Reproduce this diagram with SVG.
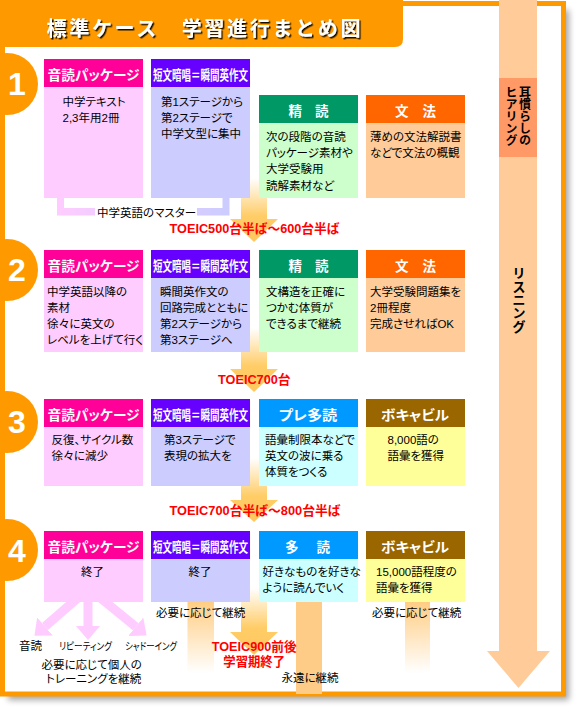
<svg xmlns="http://www.w3.org/2000/svg" width="584" height="718" viewBox="0 0 584 718">
<defs>
<style>
.t{font-family:"Liberation Sans","Noto Sans CJK JP",sans-serif;font-size:11.5px;fill:#000;font-feature-settings:"palt";}
.s{font-family:"Liberation Sans","Noto Sans CJK JP",sans-serif;font-size:10px;fill:#000;font-feature-settings:"palt";}
.h{font-family:"Liberation Sans","Noto Sans CJK JP",sans-serif;font-size:13.5px;font-weight:bold;fill:#fff;text-anchor:middle;font-feature-settings:"palt";}
.r{font-family:"Liberation Sans","Noto Sans CJK JP",sans-serif;font-size:13px;font-weight:bold;fill:#f00;}
.v{font-family:"Noto Sans CJK JP",sans-serif;font-weight:bold;fill:#000;writing-mode:tb;}
.num{font-family:"Liberation Sans",sans-serif;font-size:32px;font-weight:bold;fill:#fff;text-anchor:middle;}
.c1{fill:#FF0099}.b1{fill:#FFCCFF}
.c2{fill:#6600FF}.b2{fill:#CCCCFF}
.c3{fill:#009966}.b3{fill:#CCFFCC}
.c4{fill:#FF6600}.b4{fill:#FFCC99}
.c5{fill:#0099FF}.b5{fill:#CCFFFF}
.c6{fill:#996600}.b6{fill:#FFFF99}
.circ{fill:#FF9900}
</style>
<filter id="shadow" x="-5%" y="-5%" width="115%" height="115%"><feGaussianBlur stdDeviation="3"/></filter>
<filter id="tshadow" x="-5%" y="-20%" width="110%" height="150%"><feDropShadow dx="1.5" dy="1.5" stdDeviation="0.4" flood-color="#000" flood-opacity="0.9"/></filter>
<linearGradient id="ag" x1="0" y1="0" x2="0" y2="1"><stop offset="0" stop-color="#FFCC66" stop-opacity="0"/><stop offset="0.6" stop-color="#FFCC66"/><stop offset="1" stop-color="#FFC85E"/></linearGradient>
<linearGradient id="fg" x1="0" y1="0" x2="0" y2="1"><stop offset="0" stop-color="#FFCC80"/><stop offset="1" stop-color="#FFCC80" stop-opacity="0"/></linearGradient>
<linearGradient id="brg" x1="0" y1="0" x2="1" y2="0"><stop offset="0" stop-color="#FFCCFF"/><stop offset="1" stop-color="#CCCCFF"/></linearGradient>
<marker id="pk" markerUnits="userSpaceOnUse" markerWidth="14" markerHeight="24" refX="0" refY="12" orient="auto"><path d="M0,0 L14,12 L0,24 z" fill="#FFCCFF"/></marker>
</defs>

<g id="frame">
<rect x="8" y="10" width="561" height="690" fill="#000" opacity="0.35" filter="url(#shadow)"/>
<rect x="2.5" y="3.5" width="561" height="690.5" fill="#fff" stroke="#FF9900" stroke-width="5"/>
</g>

<g id="title">
<path d="M0,0 H403 V39 Q403,47 395,47 H0 Z" fill="#FF9900"/>
<text x="46.5" y="36" font-family="'Noto Sans CJK JP',sans-serif" font-size="20" font-weight="bold" fill="#fff" textLength="314" lengthAdjust="spacing" filter="url(#tshadow)">標準ケース　学習進行まとめ図</text>
</g>

<g id="connectors">
<path d="M57,196 V215.5 H229.5 V196 H222.5 V208 H64 V196 Z" fill="url(#brg)"/>
<rect x="95" y="206.5" width="102" height="12" fill="#fff"/>
<polygon points="241,178 267,178 267,219 278,219 254,242 230,219 241,219" fill="url(#ag)"/>
<polygon points="241,328 267,328 267,369 278,369 254,392 230,369 241,369" fill="url(#ag)"/>
<polygon points="241,458 267,458 267,500 278,500 254,522 230,500 241,500" fill="url(#ag)"/>
<polygon points="241,588 267,588 267,632 278,632 254,655 230,632 241,632" fill="url(#ag)"/>
<rect x="187.5" y="600" width="26.5" height="73" fill="url(#fg)"/>
<rect x="296" y="600" width="26" height="94" fill="#FFCC88"/>
<rect x="405" y="600" width="25" height="73" fill="url(#fg)"/>
<line x1="88" y1="598" x2="88" y2="626" stroke="#FFCCFF" stroke-width="9" marker-end="url(#pk)"/>
<line x1="80" y1="596" x2="45" y2="626.5" stroke="#FFCCFF" stroke-width="9" marker-end="url(#pk)"/>
<line x1="98" y1="596" x2="135.7" y2="626.7" stroke="#FFCCFF" stroke-width="9" marker-end="url(#pk)"/>
<rect x="499" y="0" width="38" height="651" fill="#FFCC99"/>
<polygon points="487,651 550,651 518.5,688" fill="#FFCC99"/>
</g>

<g id="listening">
<text class="v" x="519" y="266.5" font-size="13.4">リスニング</text>
</g>
<g id="hearing">
<rect x="499" y="78" width="38" height="79" fill="#FF9966"/>
<text class="v" x="525" y="86" font-size="12">耳慣らしの</text>
<text class="v" x="511.5" y="86" font-size="12">ヒアリング</text>
</g>

<g id="step1"><circle class="circ" cx="7" cy="84" r="31"/><text class="num" x="17" y="95">1</text></g>
<g id="step2"><circle class="circ" cx="7" cy="270" r="31"/><text class="num" x="17" y="280.5">2</text></g>
<g id="step3"><circle class="circ" cx="7" cy="422" r="31"/><text class="num" x="17" y="433">3</text></g>
<g id="step4"><circle class="circ" cx="7" cy="550" r="31"/><text class="num" x="17" y="561.5">4</text></g>

<!-- Row 1 -->
<g id="r1-ondoku">
<rect class="c1" x="44" y="59" width="99" height="28"/><rect class="b1" x="44" y="87" width="99" height="111"/>
<text class="h" x="93.5" y="80" textLength="92" lengthAdjust="spacingAndGlyphs">音読パッケージ</text>
<text class="t" x="62.5" y="105.5">中学テキスト</text>
<text class="t" x="62.5" y="121.5">2,3年用2冊</text>
</g>
<g id="r1-tanbun">
<rect class="c2" x="151" y="59" width="99" height="28"/><rect class="b2" x="151" y="87" width="99" height="111"/>
<text class="h" x="200.5" y="79.5" font-size="12.5" textLength="95" lengthAdjust="spacingAndGlyphs">短文暗唱＝瞬間英作文</text>
<text class="t" x="161" y="105.5">第1ステージから</text>
<text class="t" x="161" y="121.5">第2ステージで</text>
<text class="t" x="161" y="137.5">中学文型に集中</text>
</g>
<g id="r1-seidoku">
<rect class="c3" x="259" y="95" width="99" height="28"/><rect class="b3" x="259" y="123" width="99" height="75"/>
<text class="h" x="308.5" y="116" textLength="40" lengthAdjust="spacing">精　読</text>
<text class="t" x="266" y="140.5">次の段階の音読</text>
<text class="t" x="266" y="157">パッケージ素材や</text>
<text class="t" x="266" y="173.3">大学受験用</text>
<text class="t" x="266" y="189.5">読解素材など</text>
</g>
<g id="r1-bunpo">
<rect class="c4" x="366" y="95" width="99" height="28"/><rect class="b4" x="366" y="123" width="99" height="75"/>
<text class="h" x="415.5" y="116" textLength="41" lengthAdjust="spacing">文　法</text>
<text class="t" x="370" y="140.5">薄めの文法解説書</text>
<text class="t" x="370" y="157">などで文法の概観</text>
</g>
<g id="r1-label"><text class="t" x="97" y="217">中学英語のマスター</text></g>
<g id="r1-toeic"><text class="r" x="169.5" y="233" textLength="170" lengthAdjust="spacingAndGlyphs">TOEIC500台半ば～600台半ば</text></g>

<!-- Row 2 -->
<g id="r2-ondoku">
<rect class="c1" x="44" y="250" width="99" height="28"/><rect class="b1" x="44" y="278" width="99" height="74"/>
<text class="h" x="93.5" y="271" textLength="92" lengthAdjust="spacingAndGlyphs">音読パッケージ</text>
<text class="t" x="47" y="295.5">中学英語以降の</text>
<text class="t" x="47" y="311.5">素材</text>
<text class="t" x="47" y="327.5">徐々に英文の</text>
<text class="t" x="47" y="343.5">レベルを上げて行く</text>
</g>
<g id="r2-tanbun">
<rect class="c2" x="151" y="250" width="99" height="28"/><rect class="b2" x="151" y="278" width="99" height="74"/>
<text class="h" x="200.5" y="270.5" font-size="12.5" textLength="95" lengthAdjust="spacingAndGlyphs">短文暗唱＝瞬間英作文</text>
<text class="t" x="160" y="295.5">瞬間英作文の</text>
<text class="t" x="160" y="311.5">回路完成とともに</text>
<text class="t" x="160" y="327.5">第2ステージから</text>
<text class="t" x="160" y="343.5">第3ステージへ</text>
</g>
<g id="r2-seidoku">
<rect class="c3" x="259" y="250" width="99" height="28"/><rect class="b3" x="259" y="278" width="99" height="74"/>
<text class="h" x="308.5" y="271" textLength="40" lengthAdjust="spacing">精　読</text>
<text class="t" x="266" y="295.5">文構造を正確に</text>
<text class="t" x="266" y="311.5">つかむ体質が</text>
<text class="t" x="266" y="327.5">できるまで継続</text>
</g>
<g id="r2-bunpo">
<rect class="c4" x="366" y="250" width="99" height="28"/><rect class="b4" x="366" y="278" width="99" height="74"/>
<text class="h" x="415.5" y="271" textLength="41" lengthAdjust="spacing">文　法</text>
<text class="t" x="370" y="295.5">大学受験問題集を</text>
<text class="t" x="370" y="311.5">2冊程度</text>
<text class="t" x="370" y="327.5">完成させればOK</text>
</g>
<g id="r2-toeic"><text class="r" x="218" y="384" textLength="72.5" lengthAdjust="spacingAndGlyphs">TOEIC700台</text></g>

<!-- Row 3 -->
<g id="r3-ondoku">
<rect class="c1" x="44" y="399" width="99" height="28"/><rect class="b1" x="44" y="427" width="99" height="59"/>
<text class="h" x="93.5" y="420" textLength="92" lengthAdjust="spacingAndGlyphs">音読パッケージ</text>
<text class="t" x="51.5" y="443.5">反復、サイクル数</text>
<text class="t" x="51.5" y="459.5">徐々に減少</text>
</g>
<g id="r3-tanbun">
<rect class="c2" x="151" y="399" width="99" height="28"/><rect class="b2" x="151" y="427" width="99" height="59"/>
<text class="h" x="200.5" y="419.5" font-size="12.5" textLength="95" lengthAdjust="spacingAndGlyphs">短文暗唱＝瞬間英作文</text>
<text class="t" x="164" y="443.5">第3ステージで</text>
<text class="t" x="164" y="459.5">表現の拡大を</text>
</g>
<g id="r3-pretadoku">
<rect class="c5" x="259" y="399" width="99" height="28"/><rect class="b5" x="259" y="427" width="99" height="59"/>
<text class="h" x="308" y="420" font-size="14.5" textLength="58.5" lengthAdjust="spacingAndGlyphs">プレ多読</text>
<text class="t" x="265" y="443.5">語彙制限本などで</text>
<text class="t" x="265" y="459.5">英文の波に乗る</text>
<text class="t" x="265" y="475.5">体質をつくる</text>
</g>
<g id="r3-vocab">
<rect class="c6" x="366" y="399" width="99" height="28"/><rect class="b6" x="366" y="427" width="99" height="59"/>
<text class="h" x="415" y="420" font-size="14" textLength="68" lengthAdjust="spacingAndGlyphs">ボキャビル</text>
<text class="t" x="387.5" y="443.5">8,000語の</text>
<text class="t" x="387.5" y="459.5">語彙を獲得</text>
</g>
<g id="r3-toeic"><text class="r" x="169.5" y="515" textLength="171" lengthAdjust="spacingAndGlyphs">TOEIC700台半ば～800台半ば</text></g>

<!-- Row 4 -->
<g id="r4-ondoku">
<rect class="c1" x="44" y="531" width="99" height="28"/><rect class="b1" x="44" y="559" width="99" height="43"/>
<text class="h" x="93.5" y="552" textLength="92" lengthAdjust="spacingAndGlyphs">音読パッケージ</text>
<text class="t" x="92.5" y="575.5" text-anchor="middle">終了</text>
</g>
<g id="r4-tanbun">
<rect class="c2" x="151" y="531" width="99" height="28"/><rect class="b2" x="151" y="559" width="99" height="43"/>
<text class="h" x="200.5" y="551.5" font-size="12.5" textLength="95" lengthAdjust="spacingAndGlyphs">短文暗唱＝瞬間英作文</text>
<text class="t" x="200" y="575.5" text-anchor="middle">終了</text>
</g>
<g id="r4-tadoku">
<rect class="c5" x="259" y="531" width="99" height="28"/><rect class="b5" x="259" y="559" width="99" height="43"/>
<text class="h" x="307.5" y="552" textLength="45" lengthAdjust="spacing">多　読</text>
<text class="t" x="262.5" y="575.5">好きなものを好きな</text>
<text class="t" x="262.5" y="591.5">ように読んでいく</text>
</g>
<g id="r4-vocab">
<rect class="c6" x="366" y="531" width="99" height="28"/><rect class="b6" x="366" y="559" width="99" height="43"/>
<text class="h" x="415" y="552" font-size="14" textLength="68" lengthAdjust="spacingAndGlyphs">ボキャビル</text>
<text class="t" x="376" y="575.5">15,000語程度の</text>
<text class="t" x="376" y="591.5">語彙を獲得</text>
</g>

<g id="bottom-labels">
<text class="t" x="156" y="617">必要に応じて継続</text>
<text class="t" x="372" y="617">必要に応じて継続</text>
<text class="t" x="19" y="649.5">音読</text>
<text class="s" x="59" y="649.5" textLength="53" lengthAdjust="spacingAndGlyphs">リピーティング</text>
<text class="s" x="125" y="649.5" textLength="52" lengthAdjust="spacingAndGlyphs">シャドーイング</text>
<text class="t" x="41.5" y="669">必要に応じて個人の</text>
<text class="t" x="46" y="683">トレーニングを継続</text>
<text class="t" x="281.5" y="682">永遠に継続</text>
<text class="r" x="211.7" y="651" textLength="85" lengthAdjust="spacingAndGlyphs">TOEIC900前後</text>
<text class="r" x="223.3" y="666" textLength="61.7" lengthAdjust="spacingAndGlyphs">学習期終了</text>
</g>
</svg>
